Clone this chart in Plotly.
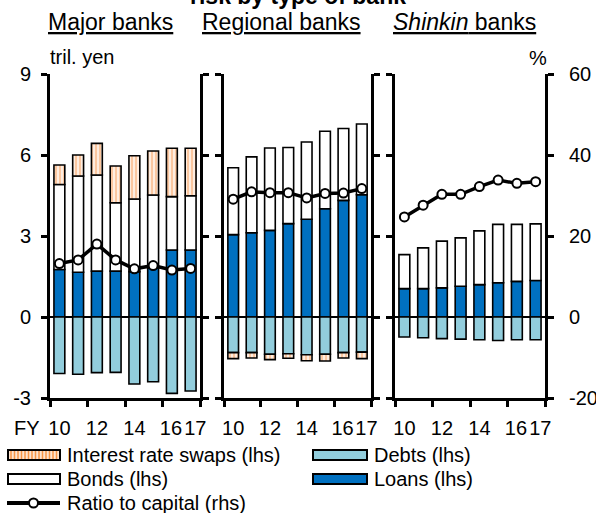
import plotly.graph_objects as go

W, H = 596, 513

# ---------------- data ----------------
fiscal_years = [10, 11, 12, 13, 14, 15, 16, 17]
tick_labels = ["10", "12", "14", "16", "17"]
tick_label_pos = [10, 12, 14, 15.95, 17.25]
boundary_ticks = [9.5, 11.5, 13.5, 15.5, 17.5]

lhs_ticks = [-3, 0, 3, 6, 9]
lhs_labels = ["-3", "0", "3", "6", "9"]
rhs_ticks = [-20, 0, 20, 40, 60]
rhs_labels = ["-20", "0", "20", "40", "60"]

panel_titles = ["<u>Major banks</u>", "<u>Regional banks</u>", "<u><i>Shinkin</i> banks</u>"]

major_loans = [1.76, 1.66, 1.70, 1.70, 1.68, 1.81, 2.48, 2.48]
major_bonds = [3.15, 3.56, 3.56, 2.53, 2.69, 2.71, 1.98, 2.01]
major_swaps = [0.72, 0.78, 1.17, 1.36, 1.60, 1.63, 1.79, 1.76]
major_debts = [-2.09, -2.12, -2.06, -2.05, -2.48, -2.40, -2.83, -2.74]
major_ratio = [13.2, 14.1, 18.0, 14.1, 11.9, 12.7, 11.6, 12.0]

regional_loans = [3.05, 3.12, 3.21, 3.46, 3.62, 4.01, 4.32, 4.53]
regional_bonds = [2.48, 2.81, 3.05, 2.82, 2.86, 2.87, 2.66, 2.62]
regional_swaps = [-0.22, -0.20, -0.20, -0.17, -0.22, -0.25, -0.20, -0.24]
regional_debts = [-1.32, -1.32, -1.38, -1.36, -1.40, -1.38, -1.32, -1.30]
regional_ratio = [29.1, 30.9, 30.7, 30.7, 29.4, 30.5, 30.6, 31.7]

shinkin_loans = [1.05, 1.05, 1.08, 1.14, 1.20, 1.27, 1.32, 1.35]
shinkin_bonds = [1.26, 1.51, 1.73, 1.79, 1.99, 2.16, 2.11, 2.10]
shinkin_swaps = [None, None, None, None, None, None, None, None]
shinkin_debts = [-0.74, -0.77, -0.80, -0.82, -0.84, -0.87, -0.84, -0.84]
shinkin_ratio = [24.7, 27.6, 30.3, 30.3, 32.2, 33.8, 33.0, 33.4]

legend_names = ["Interest rate swaps (lhs)", "Debts (lhs)", "Bonds (lhs)",
                "Loans (lhs)", "Ratio to capital (rhs)"]

# ---------------- styles ----------------
FONT = "Liberation Sans, Arial, sans-serif"
C_LOANS = "#0070C0"
C_DEBTS = "#92CDDC"
C_BONDS = "#FFFFFF"
C_SWAP_FG = "#F79646"
C_SWAP_BG = "#FDE4CF"
OUTLINE = dict(color="black", width=1.6)


def fx(px):
    return px / W


def fy(py):
    return 1 - py / H


x_pix = [(50, 200), (224, 371), (395, 545)]
y_dom = [fy(398), fy(74)]

panels = [
    (major_loans, major_bonds, major_debts, major_swaps, major_ratio),
    (regional_loans, regional_bonds, regional_debts, regional_swaps, regional_ratio),
    (shinkin_loans, shinkin_bonds, shinkin_debts, shinkin_swaps, shinkin_ratio),
]

fig = go.Figure()

for i, (loans, bonds, debts, swaps, ratio) in enumerate(panels):
    xa = "x" if i == 0 else f"x{i + 1}"
    ya = "y" if i == 0 else f"y{i + 1}"
    yr = f"y{i + 4}"
    fig.add_trace(go.Bar(x=fiscal_years, y=loans, xaxis=xa, yaxis=ya, name=legend_names[3],
                         marker=dict(color=C_LOANS, line=OUTLINE), showlegend=False))
    fig.add_trace(go.Bar(x=fiscal_years, y=bonds, xaxis=xa, yaxis=ya, name=legend_names[2],
                         marker=dict(color=C_BONDS, line=OUTLINE), showlegend=False))
    fig.add_trace(go.Bar(x=fiscal_years, y=debts, xaxis=xa, yaxis=ya, name=legend_names[1],
                         marker=dict(color=C_DEBTS, line=OUTLINE), showlegend=False))
    fig.add_trace(go.Bar(x=fiscal_years, y=swaps, xaxis=xa, yaxis=ya, name=legend_names[0],
                         marker=dict(color=C_SWAP_BG, line=OUTLINE,
                                     pattern=dict(shape="|", fgcolor="#F8A160", bgcolor="#FEEDE0",
                                                  size=4, solidity=0.5)),
                         showlegend=False))
    fig.add_trace(go.Scatter(x=fiscal_years, y=ratio, xaxis=xa, yaxis=yr, name=legend_names[4],
                             mode="lines+markers", cliponaxis=False,
                             line=dict(color="black", width=3.5),
                             marker=dict(symbol="circle", size=9, color="white",
                                         line=dict(color="black", width=2)),
                             showlegend=False))

layout = dict(
    width=W, height=H,
    margin=dict(l=0, r=0, t=0, b=0, autoexpand=False),
    paper_bgcolor="white", plot_bgcolor="white",
    barmode="relative", bargap=0.42,
    font=dict(family=FONT, size=20, color="black"),
    showlegend=False,
)

for i, (a, b) in enumerate(x_pix):
    key = "xaxis" if i == 0 else f"xaxis{i + 1}"
    ykey = "yaxis" if i == 0 else f"yaxis{i + 1}"
    ya = "y" if i == 0 else f"y{i + 1}"
    xa = "x" if i == 0 else f"x{i + 1}"
    layout[key] = dict(
        domain=[fx(a), fx(b)], range=[9.5, 17.5], anchor=ya,
        tickmode="array", tickvals=tick_label_pos, ticktext=tick_labels,
        ticks="", ticklabelstandoff=10, tickangle=0, automargin=False,
        tickfont=dict(size=20, color="black", family=FONT),
        showline=True, linecolor="black", linewidth=3,
        showgrid=False, zeroline=False, fixedrange=True,
        minor=dict(tickmode="array", tickvals=boundary_ticks, ticks="outside",
                   ticklen=6, tickwidth=2.5, tickcolor="black", showgrid=False),
    )
    layout[ykey] = dict(
        domain=y_dom, range=[-3, 9], anchor=xa,
        tickmode="array", tickvals=lhs_ticks, ticktext=lhs_labels,
        ticks="outside", ticklen=6, tickwidth=2.5, tickcolor="black",
        showticklabels=(i == 0), ticklabelstandoff=6, automargin=False,
        tickfont=dict(size=20, color="black", family=FONT),
        showline=True, linecolor="black", linewidth=3,
        showgrid=False, zeroline=True, zerolinecolor="black", zerolinewidth=2,
        fixedrange=True,
    )
    rkey = f"yaxis{i + 4}"
    layout[rkey] = dict(
        overlaying=ya, side="right", anchor=xa, range=[-20, 60],
        tickmode="array", tickvals=rhs_ticks, ticktext=rhs_labels,
        ticks="outside", ticklen=6, tickwidth=2.5, tickcolor="black",
        showticklabels=(i == 2), ticklabelstandoff=11, automargin=False,
        tickfont=dict(size=20, color="black", family=FONT),
        showline=True, linecolor="black", linewidth=3,
        showgrid=False, zeroline=False, fixedrange=True,
    )

fig.update_layout(**layout)

annotations = []
# cut-off title
annotations.append(dict(text="<b>risk by type of bank</b>", x=fx(298), y=fy(-4), xref="paper", yref="paper",
                        xanchor="center", yanchor="middle", showarrow=False,
                        font=dict(size=23, family=FONT, color="black")))
for t, cx in zip(panel_titles, [110, 281, 464]):
    annotations.append(dict(text=t, x=fx(cx), y=fy(22), xref="paper", yref="paper",
                            xanchor="center", yanchor="middle", showarrow=False,
                            font=dict(size=23, family=FONT, color="black")))
annotations.append(dict(text="tril. yen", x=fx(48), y=fy(57), xref="paper", yref="paper",
                        xanchor="left", yanchor="middle", showarrow=False,
                        font=dict(size=20, family=FONT, color="black")))
annotations.append(dict(text="%", x=fx(538), y=fy(58), xref="paper", yref="paper",
                        xanchor="center", yanchor="middle", showarrow=False,
                        font=dict(size=20, family=FONT, color="black")))
annotations.append(dict(text="FY", x=fx(27), y=fy(428), xref="paper", yref="paper",
                        xanchor="center", yanchor="middle", showarrow=False,
                        font=dict(size=20, family=FONT, color="black")))

# custom legend
shapes = []
legend_pos = [(8, 60, 455), (313, 367, 455), (8, 60, 479), (313, 367, 479), (7, 60, 503)]
legend_fill = [C_SWAP_BG, C_DEBTS, C_BONDS, C_LOANS, None]
for k, (name, (x0, x1, cy), fill) in enumerate(zip(legend_names, legend_pos, legend_fill)):
    if fill is not None:
        shapes.append(dict(type="rect", xref="paper", yref="paper",
                           x0=fx(x0), x1=fx(x1), y0=fy(cy + 5), y1=fy(cy - 5),
                           fillcolor=fill, line=dict(color="black", width=2)))
        if k == 0:
            sx = x0 + 3
            while sx < x1 - 2:
                shapes.append(dict(type="line", xref="paper", yref="paper",
                                   x0=fx(sx), x1=fx(sx), y0=fy(cy + 4), y1=fy(cy - 4),
                                   line=dict(color=C_SWAP_FG, width=1.5)))
                sx += 3.5
    else:
        shapes.append(dict(type="line", xref="paper", yref="paper",
                           x0=fx(x0), x1=fx(x1), y0=fy(cy), y1=fy(cy),
                           line=dict(color="black", width=4)))
        mid = (x0 + x1) / 2
        shapes.append(dict(type="circle", xref="paper", yref="paper",
                           x0=fx(mid - 4.5), x1=fx(mid + 4.5), y0=fy(cy + 4.5), y1=fy(cy - 4.5),
                           fillcolor="white", line=dict(color="black", width=2)))
    annotations.append(dict(text=name, x=fx(x1 + 5), y=fy(cy), xref="paper", yref="paper",
                            xanchor="left", yanchor="middle", showarrow=False,
                            font=dict(size=20, family=FONT, color="black")))

fig.update_layout(annotations=annotations, shapes=shapes)

fig.write_html("out.html", config={"displayModeBar": False},
               post_script="document.body.style.margin='0';document.body.style.overflow='hidden';")
